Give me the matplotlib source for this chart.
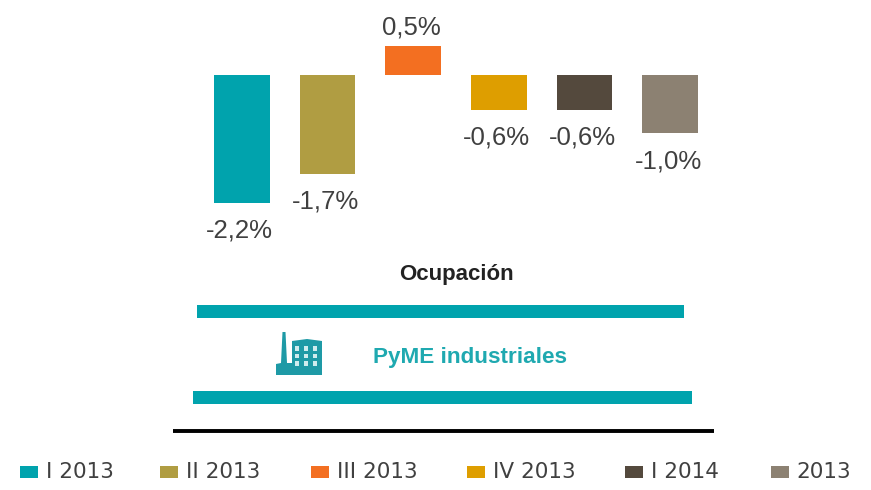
import matplotlib
matplotlib.use('Agg')
from matplotlib import pyplot as plt
from matplotlib.patches import Rectangle, Polygon

categories = ['I 2013', 'II 2013', 'III 2013', 'IV 2013', 'I 2014', '2013']
values = [-2.2, -1.7, 0.5, -0.6, -0.6, -1.0]
labels = ['-2,2%', '-1,7%', '0,5%', '-0,6%', '-0,6%', '-1,0%']
colors = ['#00A3AD', '#B09D42', '#F36F21', '#DE9E00', '#54493D', '#8C8172']

W, H = 871, 490
TEAL = '#00A3AD'
plt.rcParams['font.family'] = ['Liberation Sans', 'DejaVu Sans']

fig = plt.figure(figsize=(W / 100, H / 100), dpi=100)

# bars
ax = fig.add_axes([199 / W, 1 - 259 / H, 514 / W, 259 / H])
xs = list(range(len(values)))
ax.bar(xs, values, width=0.65, color=colors)
for x, v, t in zip(xs, values, labels):
    off = -20 if v < 0 else 13.5
    ax.annotate(t, (x, v), xytext=(-1.5, off), textcoords='offset points',
                ha='center', va='center', fontsize=18.5, color='#404040')
ax.set_xlim(-0.5, 5.5)
ax.set_ylim(-3.17, 1.3)
ax.axis('off')

# overlay in pixel coords for the rest
ov = fig.add_axes([0, 0, 1, 1])
ov.set_xlim(0, W)
ov.set_ylim(H, 0)
ov.axis('off')
ov.patch.set_alpha(0)

ov.text(456, 274, 'Ocupación', ha='center', va='center', fontsize=16, fontweight='bold', color='#222222')
ov.add_patch(Rectangle((197, 305), 487, 13, color=TEAL, lw=0))
ov.add_patch(Rectangle((193, 391), 499, 13, color=TEAL, lw=0))
ov.text(470, 357, 'PyME industriales', ha='center', va='center', fontsize=16.2, fontweight='bold', color='#1FA9B0')

# factory icon
ov.add_patch(Polygon([(276, 375), (276, 364), (281, 363), (282.5, 332), (285.5, 332),
                      (287, 363), (292, 363), (292, 341), (307, 339), (322, 341), (322, 375)],
                     closed=True, color='#1E9AA6', lw=0))
for wx in (295, 304, 313):
    for wy in (346, 353.5, 361):
        ov.add_patch(Rectangle((wx, wy), 4, 4.5, color='#CFECEE', lw=0))

ov.plot([173, 714], [431, 431], color='black', lw=2.8, solid_capstyle='butt')

# legend
swatch_x = [20, 160, 311, 467, 625, 771]
text_x = [46, 186, 337, 493, 651, 796]
for sx, tx, c, name in zip(swatch_x, text_x, colors, categories):
    ov.add_patch(Rectangle((sx, 466), 18, 12, color=c, lw=0))
    ov.text(tx, 472, name, ha='left', va='center', fontsize=15.5,
            family=['DejaVu Sans'], color='#404040')

plt.savefig('out.png', dpi=100)
